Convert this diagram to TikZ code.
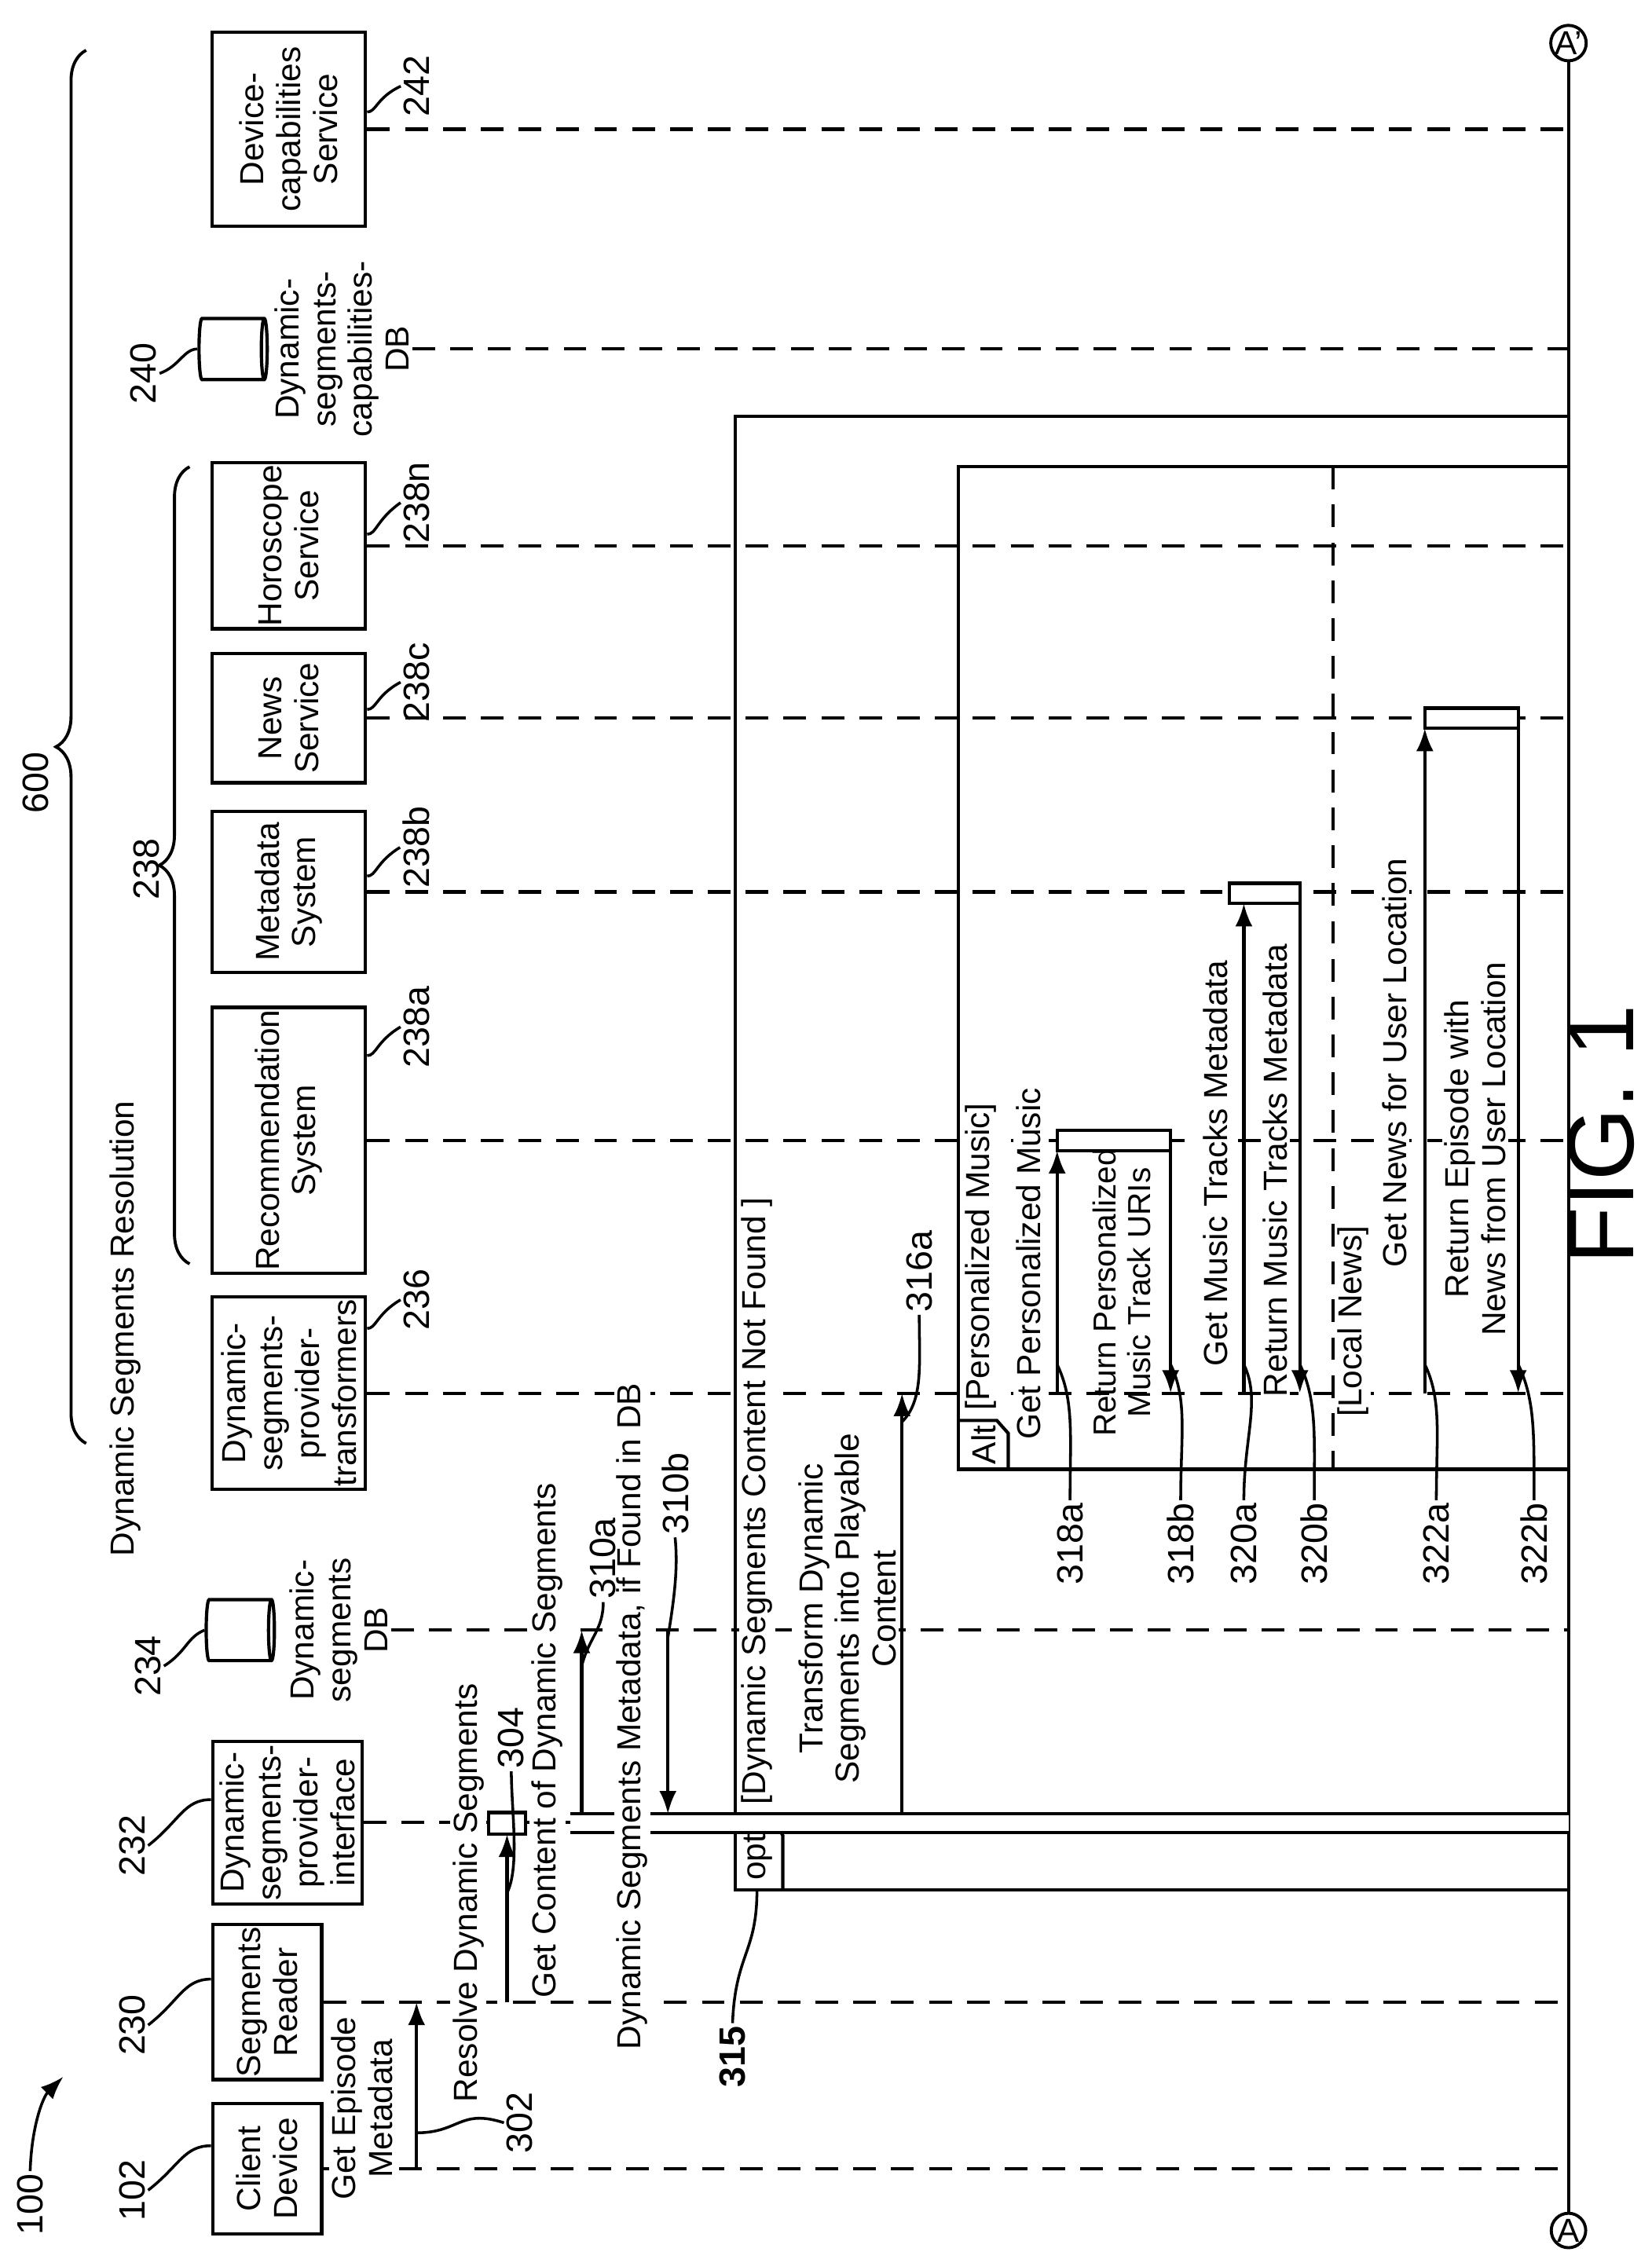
\documentclass[tikz,border=0pt]{standalone}
\usepackage{fontspec}
\setmainfont{Liberation Sans}
\usetikzlibrary{arrows.meta,shapes.geometric,decorations.pathreplacing,calc}

\begin{document}
\begin{tikzpicture}[
    x=0.02cm, y=-0.02cm,
    font=\fontsize{13.2}{14.6}\selectfont,
    box/.style={rectangle, draw, line width=1.3pt, rotate=90, minimum height=2.14cm, align=center, inner sep=1pt},
    db/.style={cylinder, draw, line width=1.3pt, shape border rotate=0, aspect=0.35, minimum width=0.85cm, minimum height=0.95cm},
    txt/.style={rotate=90, align=center, inner sep=1pt, fill=white},
    lbl/.style={rotate=90, align=center, inner sep=1pt, fill=white},
    num/.style={rotate=90, inner sep=1pt, font=\fontsize{14.5}{16}\selectfont},
    life/.style={dashed, dash pattern=on 9pt off 6pt, line width=1.3pt},
    frame/.style={line width=1.3pt},
    msg/.style={line width=1.3pt, -{Latex[length=3.2mm,width=2.4mm]}},
    lead/.style={line width=1.1pt},
    act/.style={draw, fill=white, line width=1.3pt}
]
\useasboundingbox (0,0) rectangle (1150,1568);

% right edge
\coordinate (rl) at (1092,0);
\node[circle, draw, line width=1.2pt, minimum size=0.48cm, inner sep=0pt, fill=white] (pA) at (1092,1553) {A};
\node[circle, draw, line width=1.2pt, minimum size=0.48cm, inner sep=0pt, fill=white] (pA2) at (1092,30) {A'};
\draw[frame] (pA) -- (pA2);

% participants
\node[box, minimum width=1.82cm, minimum height=1.52cm] (client) at (186,1510) {Client\\Device};
\node[box, minimum width=2.08cm, minimum height=1.52cm] (reader) at (186,1394) {Segments\\Reader};
\node[box, minimum width=2.26cm, minimum height=2.08cm] (iface) at (200,1269) {Dynamic-\\segments-\\provider-\\interface};
\node[db] (db1) at (165,1135) {};
\node[txt, fill=none] (db1l) at (236,1135) {Dynamic-\\segments\\DB};
\node[box, minimum width=2.4cm] (trans) at (201,970) {Dynamic-\\segments-\\provider-\\transformers};
\node[box, minimum width=3.7cm] (rec) at (201,794) {Recommendation\\System};
\node[box, minimum width=2.24cm] (meta) at (201,621) {Metadata\\System};
\node[box, minimum width=1.8cm] (news) at (201,500) {News\\Service};
\node[box, minimum width=2.24cm] (horo) at (201,380) {Horoscope\\Service};
\node[db] (db2) at (160,243) {};
\node[txt, fill=none] (db2l) at (238,243) {Dynamic-\\segments-\\capabilities-\\DB};
\node[box, minimum width=2.7cm] (dev) at (201,90) {Device-\\capabilities\\Service};

% lifelines
\foreach \p in {client,reader,iface,trans,rec,meta,news,horo,dev}
  \draw[life] (\p.south) -- (\p.south -| rl);
\draw[life] (db1l.south) -- (db1l.south -| rl);
\draw[life] (db2l.south) -- (db2l.south -| rl);

% reference numbers
\node[num] (n102) at (92,1525) {102};
\node[num] (n230) at (92,1410) {230};
\node[num] (n232) at (92,1285) {232};
\node[num] (n234) at (103,1160) {234};
\node[num] (n236) at (290,905) {236};
\node[num] (n238a) at (290,715) {238a};
\node[num] (n238b) at (290,590) {238b};
\node[num] (n238c) at (290,475) {238c};
\node[num] (n238n) at (290,350) {238n};
\node[num] (n240) at (100,260) {240};
\node[num] (n242) at (290,60) {242};
\draw[lead] (n102.south) .. controls (125,1508) and (128,1494) .. (client.north |- 0,1494);
\draw[lead] (n230.south) .. controls (125,1393) and (128,1378) .. (reader.north |- 0,1378);
\draw[lead] (n232.south) .. controls (125,1268) and (128,1253) .. (iface.north |- 0,1253);
\draw[lead] (n234.south) .. controls (130,1150) and (130,1140) .. (db1.west);
\draw[lead] (n240.south) .. controls (125,255) and (128,243) .. (db2.west);
\foreach \b/\n/\yy in {trans/n236/925, rec/n238a/735, meta/n238b/610, news/n238c/494, horo/n238n/372, dev/n242/78}
  \draw[lead] (\b.south |- 0,\yy) .. controls (262,\yy) and (262,\yy-10) .. (\n.north);

% braces
\draw[line width=1.2pt, decorate, decoration={brace, amplitude=12pt}] (60,1005) -- (60,35);
\node[num] (n600) at (25,545) {600};
\node[txt] (dsr) at (87,925) {Dynamic Segments Resolution};
\draw[line width=1.2pt, decorate, decoration={brace, amplitude=12pt}] (132,880) -- (132,325);
\node[num] (n238) at (102,605) {238};

\node[num] (n100) at (21,1535) {100};
\draw[lead, -{Latex[length=3.2mm,width=2.4mm]}] (n100.east) .. controls (22,1480) and (30,1460) .. (44,1446);

% frames
\draw[frame] (512,290) rectangle (1092,1316);
\draw[frame] (512,1265) -- (538,1265) -- (545,1278) -- (545,1316);
\node[txt, fill=none] (optl) at (528,1293) {opt};
\node[txt] (optg) at (527,1045) {[Dynamic Segments Content Not Found ]};
\node[num, font=\bfseries\fontsize{14.5}{16}\selectfont] (n315) at (510,1432) {315};
\draw[lead] (n315.east) .. controls (512,1360) and (527,1360) .. (527,1316);

\draw[frame] (667,325) rectangle (1092,1023);
\draw[frame] (667,989) -- (694,989) -- (702,998) -- (702,1023);
\draw[life] (928,325) -- (928,1023);
\node[txt, fill=none] (altl) at (685,1006) {Alt};
\node[txt] (altg1) at (683,875) {[Personalized Music]};
\node[txt] (altg2) at (942,920) {[Local News]};

% activation bar
\fill[white] (397,1263) rectangle (1092,1276);
\draw[frame] (397,1263) -- (1092,1263);
\draw[frame] (397,1276) -- (1092,1276);
\draw[act] (340,1262) rectangle (366,1277);

% messages
\coordinate (m1) at (290,0);
\coordinate (m2) at (353,0);
\coordinate (m3) at (405,0);
\coordinate (m4) at (465,0);
\coordinate (m5) at (628,0);
\draw[msg] (m1 |- client.south) -- (m1 |- reader.south);
\node[txt] (t1) at (252,1468) {Get Episode\\Metadata};
\draw[msg] (m2 |- reader.south) -- (m2 |- 0,1277);
\node[lbl] (t2) at (326,1318) {Resolve Dynamic Segments};
\draw[msg] (m3 |- 0,1263) -- (m3 |- db1l.south);
\node[lbl] (t3) at (381,1212) {Get Content of Dynamic Segments};
\draw[msg] (m4 |- db1l.south) -- (m4 |- 0,1263);
\node[lbl] (t4) at (440,1195) {Dynamic Segments Metadata, if Found in DB};
\draw[msg] (m5 |- 0,1263) -- (m5 |- trans.south);
\node[txt] (t5) at (590,1120) {Transform Dynamic\\Segments into Playable\\Content};

\node[num] (n302) at (362,1478) {302};
\draw[lead] (290,1485) .. controls (320,1485) and (320,1468) .. (n302.north);
\node[num, fill=white] (n304) at (356,1210) {304};
\draw[lead] (353,1318) .. controls (362,1300) and (356,1260) .. (n304.west);
\node[num] (n310a) at (420,1085) {310a};
\draw[lead] (n310a.west) .. controls (420,1135) and (410,1140) .. (405,1160);
\node[num] (n310b) at (470,1040) {310b};
\draw[lead] (n310b.west) .. controls (472,1090) and (470,1110) .. (465,1140);
\node[num] (n316a) at (640,885) {316a};
\draw[lead] (n316a.west) .. controls (640,950) and (643,975) .. (628,990);

% alt messages
\coordinate (m6) at (736,0);
\coordinate (m7) at (815,0);
\coordinate (m8) at (866,0);
\coordinate (m9) at (905,0);
\coordinate (m10) at (992,0);
\coordinate (m11) at (1057,0);
\node[txt] (t6) at (716,880) {Get Personalized Music};
\node[txt, fill=none, font=\fontsize{12.6}{14}\selectfont] (t7) at (781,900) {Return Personalized\\Music Track URIs};
\node[txt] (t8) at (846,810) {Get Music Tracks Metadata};
\node[txt] (t9) at (888,815) {Return Music Tracks Metadata};
\node[txt] (t10) at (971,740) {Get News for User Location};
\node[txt] (t11) at (1027,800) {Return Episode with\\News from User Location};
\draw[act] (736,787) rectangle (815,801);
\draw[act] (856,615) rectangle (905,629);
\draw[act] (992,493) rectangle (1057,507);
\draw[msg] (m6 |- trans.south) -- (m6 |- 0,801);
\draw[msg] (m7 |- 0,801) -- (m7 |- trans.south);
\draw[msg] (m8 |- trans.south) -- (m8 |- 0,629);
\draw[msg] (m9 |- 0,629) -- (m9 |- trans.south);
\draw[msg] (m10 |- trans.south) -- (m10 |- 0,507);
\draw[msg] (m11 |- 0,507) -- (m11 |- trans.south);

\foreach \n/\xx/\mx in {318a/745/736, 318b/822/815, 320a/866/866, 320b/915/905, 322a/1000/992, 322b/1068/1057}
{
  \node[num] (n\n) at (\xx,1075) {\n};
  \draw[lead] (n\n.east) .. controls (\xx,1000) and (\mx+12,975) .. (\mx,950);
}

\node[rotate=90, font=\fontsize{37}{40}\selectfont] (fig) at (1115,790) {FIG. 1};
\end{tikzpicture}
\end{document}
